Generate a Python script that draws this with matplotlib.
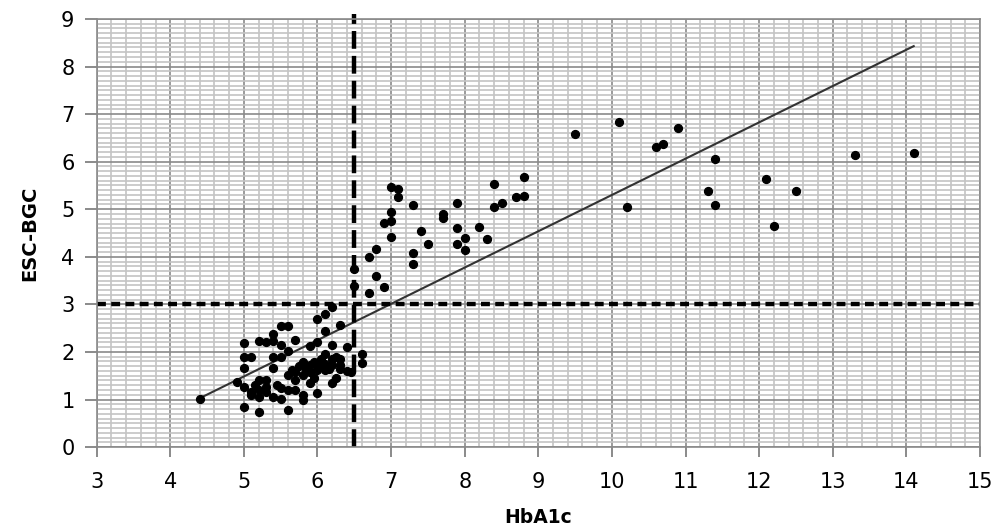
import numpy as np
import matplotlib
matplotlib.use("Agg")
import matplotlib.pyplot as plt
from matplotlib.ticker import MultipleLocator

# HbA1c vs ESC-BGC
hba1c = [
    4.4, 4.9, 5.0, 5.0, 5.0, 5.0, 5.0, 5.1, 5.1, 5.1,
    5.2, 5.2, 5.2, 5.2, 5.2, 5.3, 5.3, 5.3, 5.4, 5.4,
    5.4, 5.4, 5.4, 5.5, 5.5, 5.5, 5.5, 5.5, 5.6, 5.6,
    5.6, 5.6, 5.6, 5.7, 5.7, 5.7, 5.7, 5.8, 5.8, 5.8,
    5.8, 5.9, 5.9, 5.9, 5.9, 6.0, 6.0, 6.0, 6.0, 6.0,
    6.1, 6.1, 6.1, 6.1, 6.1, 6.2, 6.2, 6.2, 6.2, 6.2,
    6.3, 6.3, 6.3, 6.4, 6.4, 6.6, 6.6, 5.75, 5.85, 5.95,
    6.05, 6.15, 6.25, 6.3, 5.65, 6.05, 5.3, 5.45, 5.15, 5.95,
    6.25, 6.45,
    6.5, 6.5, 6.7, 6.7, 6.8, 6.8, 6.9, 6.9, 7.0, 7.0,
    7.0, 7.0, 7.1, 7.1, 7.3, 7.3, 7.3, 7.4, 7.5, 7.7,
    7.7, 7.9, 7.9, 8.0, 7.9, 8.0, 8.2, 8.3, 8.4, 8.8,
    8.4, 8.5, 8.7, 8.8, 9.5, 10.1, 10.6, 10.7, 10.9, 11.4,
    10.2, 11.3, 11.4, 12.1, 12.5, 12.2, 13.3, 14.1,
]
esc_bgc = [
    1.02, 1.37, 1.26, 0.85, 2.19, 1.89, 1.67, 1.89, 1.16, 1.09,
    0.74, 2.24, 1.40, 1.19, 1.05, 2.21, 1.40, 1.26, 2.38, 2.24,
    1.89, 1.67, 1.05, 1.25, 1.02, 2.14, 1.89, 2.54, 2.54, 2.03,
    1.19, 0.78, 1.51, 2.26, 1.58, 1.40, 1.19, 1.79, 1.51, 1.09,
    1.00, 2.12, 1.72, 1.58, 1.34, 2.70, 2.21, 1.72, 1.62, 1.13,
    2.80, 2.45, 1.96, 1.75, 1.62, 2.94, 2.14, 1.86, 1.72, 1.34,
    2.56, 1.86, 1.72, 1.61, 2.10, 1.95, 1.77, 1.70, 1.65, 1.78,
    1.70, 1.65, 1.90, 1.65, 1.62, 1.85, 1.15, 1.30, 1.30, 1.45,
    1.45, 1.58,
    3.75, 3.38, 3.24, 3.99, 4.17, 3.60, 3.36, 4.72, 4.76, 4.95,
    4.41, 5.47, 5.43, 5.26, 5.09, 4.07, 3.84, 4.54, 4.27, 4.90,
    4.82, 5.14, 4.60, 4.40, 4.27, 4.14, 4.62, 4.38, 5.53, 5.67,
    5.04, 5.14, 5.25, 5.28, 6.59, 6.84, 6.31, 6.38, 6.70, 6.05,
    5.05, 5.39, 5.09, 5.63, 5.39, 4.64, 6.14, 6.18,
]

# fitted line and cut-offs
fit_range = [4.4, 14.1]
fit_intercept = -2.33
fit_slope = 0.763
hba1c_cut = 6.5
bgc_cut = 3.0

fig = plt.figure(figsize=(10.06, 5.26), dpi=100)
ax = fig.add_axes([0.0961, 0.150, 0.878, 0.814])

ax.set_xlim(3, 15)
ax.set_ylim(0, 9)
ax.xaxis.set_major_locator(MultipleLocator(1))
ax.yaxis.set_major_locator(MultipleLocator(1))
ax.xaxis.set_minor_locator(MultipleLocator(0.2))
ax.yaxis.set_minor_locator(MultipleLocator(0.1))
ax.grid(which="minor", color="#c4c4c4", linewidth=1.2)
ax.grid(which="major", color="#8a8a8a", linewidth=1.2)
ax.set_axisbelow(True)

for s in ax.spines.values():
    s.set_color("#8a8a8a")
    s.set_linewidth(1.2)

ax.tick_params(which="minor", length=0)
ax.tick_params(axis="x", which="major", length=7, width=1.2, color="#777777",
               labelsize=15, pad=11)
ax.tick_params(axis="y", which="major", length=9, width=1.2, color="#777777",
               labelsize=15, pad=7)

xs = np.array(fit_range)
ax.plot(xs, fit_intercept + fit_slope * xs, color="#333333", linewidth=1.5)

ax.plot([hba1c_cut, hba1c_cut], [0, 9.1], color="black", linewidth=3.2,
        dashes=(4, 1.6), clip_on=False)
ax.plot([3, 15], [bgc_cut, bgc_cut], color="black", linewidth=3.2,
        dashes=(2, 1.2), clip_on=False)

ax.scatter(hba1c, esc_bgc, s=32, color="black", zorder=3)

ax.set_xlabel("HbA1c", fontsize=13.5, fontweight="bold")
ax.set_ylabel("ESC-BGC", fontsize=14, fontweight="bold")
ax.xaxis.set_label_coords(0.5, -0.143)
ax.yaxis.set_label_coords(-0.065, 0.5)

fig.savefig("out.png", dpi=100)
